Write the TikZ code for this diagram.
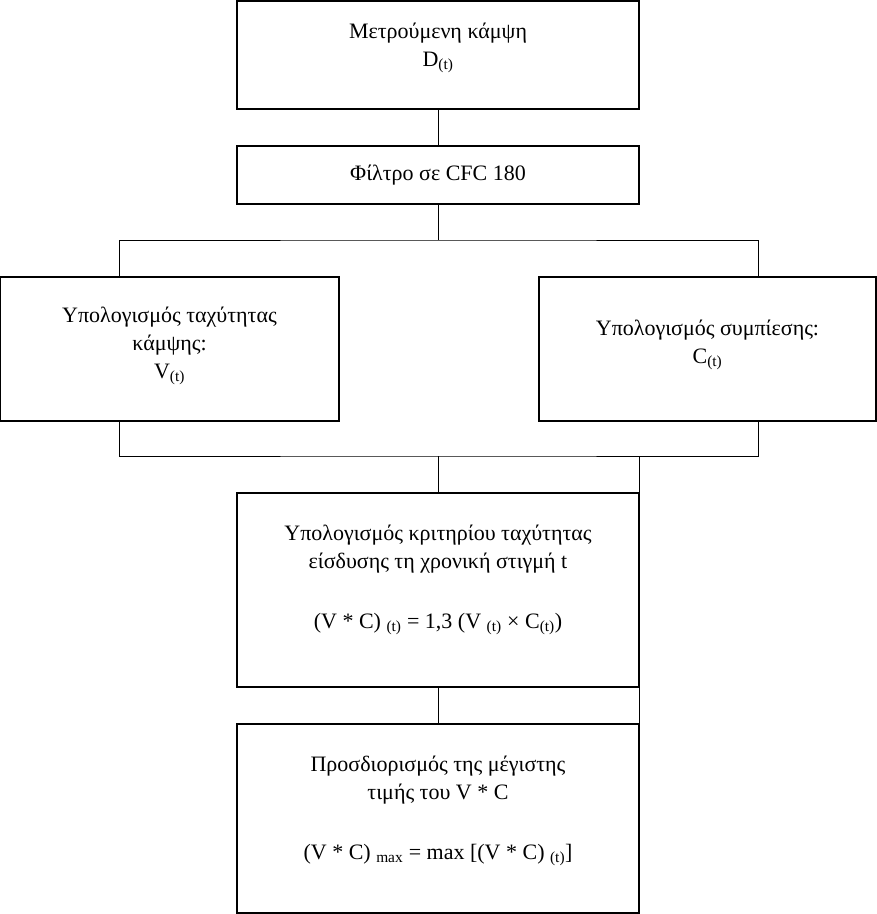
\documentclass[tikz,border=0pt]{standalone}
\usepackage{fontspec}
\setmainfont{Liberation Serif}

\begin{document}
\begin{tikzpicture}[x=1pt,y=-1pt,
  every node/.style={font=\fontsize{22}{28}\selectfont},
  box/.style={draw=black,line width=1.1pt,inner sep=0pt},
  txt/.style={align=center,inner sep=0pt},
  link/.style={line width=1pt}]
  \useasboundingbox (0,0) rectangle (877,914);

  % Measured deflection and filter
  \node[box,minimum width=402,minimum height=108] (meas) at (438,55) {};
  \node[txt] (measT) at (438,48) {Μετρούμενη κάμψη\\D\textsubscript{(t)}};
  \node[box,minimum width=402,minimum height=58] (filt) at (438,175) {};
  \node[txt] (filtT) at (438,175) {Φίλτρο σε CFC 180};

  % Velocity and compression
  \node[box,minimum width=339,minimum height=144] (vel) at (169.5,349) {};
  \node[txt] (velT) at (169.5,346) {Υπολογισμός ταχύτητας\\κάμψης:\\V\textsubscript{(t)}};
  \node[box,minimum width=337,minimum height=144] (comp) at (707.5,349) {};
  \node[txt] (compT) at (707.5,345) {Υπολογισμός συμπίεσης:\\C\textsubscript{(t)}};

  % Criterion and maximum
  \node[box,minimum width=402,minimum height=194] (crit) at (438,590) {};
  \node[txt] (critT) at (438,580)
    {Υπολογισμός κριτηρίου ταχύτητας\\είσδυσης τη χρονική στιγμή t\\[32pt]
     (V * C) \textsubscript{(t)} = 1,3 (V \textsubscript{(t)} × C\textsubscript{(t)})};
  \node[box,minimum width=402,minimum height=189] (maxv) at (438,818.5) {};
  \node[txt] (maxvT) at (438,811)
    {Προσδιορισμός της μέγιστης\\τιμής του V * C\\[32pt]
     (V * C) \textsubscript{max} = max [(V * C) \textsubscript{(t)}]};

  % Branch and join points
  \coordinate (split) at (438,240);
  \coordinate (merge) at (438,456);
  \coordinate (velx) at (119,0);
  \coordinate (compx) at (758,0);

  % Connectors
  \draw[link] (meas) -- (filt);
  \draw[link] (filt) -- (split);
  \draw[link] (vel.north -| velx) |- (split) -| (comp.north -| compx);
  \draw[link] (vel.south -| velx) |- (merge) -| (comp.south -| compx);
  \draw[link] (merge) -- (crit);
  \draw[link] (crit.north east |- merge) -- (maxv.north east);
  \draw[link] (crit) -- (maxv);
\end{tikzpicture}
\end{document}
